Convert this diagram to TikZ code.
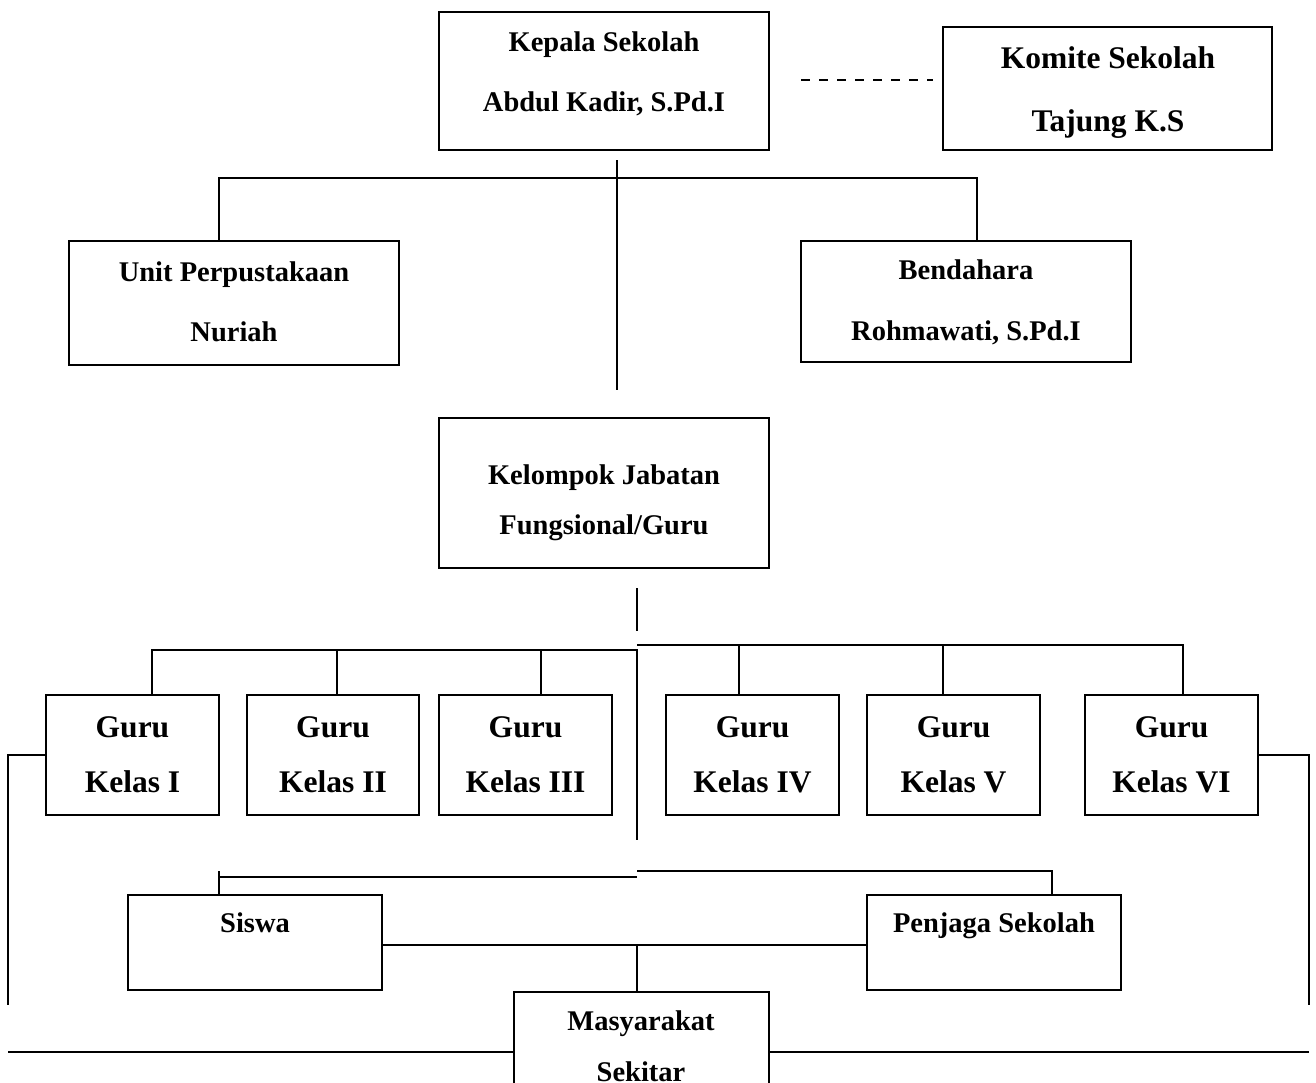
\documentclass[tikz,border=0pt]{standalone}
\usepackage{fontspec}
\setmainfont{Liberation Serif}
\usetikzlibrary{calc}
\begin{document}
\begin{tikzpicture}[x=1pt,y=-1pt,
  box/.style={draw,line width=1.6pt,rectangle,inner sep=0pt},
  ln/.style={line width=1.6pt},
  txt/.style={anchor=base,inner sep=0pt,font=\bfseries\fontsize{28.5}{34}\selectfont},
  big/.style={anchor=base,inner sep=0pt,font=\bfseries\fontsize{31.5}{38}\selectfont}]
\useasboundingbox (0,0) rectangle (1316,1082);
\clip (0,0) rectangle (1316,1082);
% boxes
\node[box,minimum width=330pt,minimum height=138pt] (kepala) at (604,81) {};
\node[box,minimum width=329pt,minimum height=123pt] (komite) at (1107.5,88.5) {};
\node[box,minimum width=330pt,minimum height=124pt] (unit) at (234,303) {};
\node[box,minimum width=330pt,minimum height=121pt] (bend) at (966,301.5) {};
\node[box,minimum width=330pt,minimum height=150pt] (kelompok) at (604,493) {};
\node[box,minimum width=173pt,minimum height=120pt] (g1) at (132.5,755) {};
\node[box,minimum width=172pt,minimum height=120pt] (g2) at (333,755) {};
\node[box,minimum width=173pt,minimum height=120pt] (g3) at (525.5,755) {};
\node[box,minimum width=173pt,minimum height=120pt] (g4) at (752.5,755) {};
\node[box,minimum width=173pt,minimum height=120pt] (g5) at (953.5,755) {};
\node[box,minimum width=173pt,minimum height=120pt] (g6) at (1171.5,755) {};
\node[box,minimum width=254pt,minimum height=95pt] (siswa) at (255,942.5) {};
\node[box,minimum width=254pt,minimum height=95pt] (penjaga) at (994,942.5) {};
\node[box,minimum width=255pt,minimum height=130pt] (masy) at (641.5,1057) {};
% texts
\node[txt] (t1) at (604,51) {Kepala Sekolah};
\node[txt] (t2) at (604,111) {Abdul Kadir, S.Pd.I};
\node[big] (t3) at (1108,68) {Komite Sekolah};
\node[big] (t4) at (1108,131) {Tajung K.S};
\node[txt] (t5) at (234,281) {Unit Perpustakaan};
\node[txt] (t6) at (234,341) {Nuriah};
\node[txt] (t7) at (966,279) {Bendahara};
\node[txt] (t8) at (966,340) {Rohmawati, S.Pd.I};
\node[txt] (t9) at (604,484) {Kelompok Jabatan};
\node[txt] (t10) at (604,534) {Fungsional/Guru};
\node[big] (ga1) at (132.5,737) {Guru};
\node[big] (gb1) at (132.5,792) {Kelas I};
\node[big] (ga2) at (333,737) {Guru};
\node[big] (gb2) at (333,792) {Kelas II};
\node[big] (ga3) at (525.5,737) {Guru};
\node[big] (gb3) at (525.5,792) {Kelas III};
\node[big] (ga4) at (752.5,737) {Guru};
\node[big] (gb4) at (752.5,792) {Kelas IV};
\node[big] (ga5) at (953.5,737) {Guru};
\node[big] (gb5) at (953.5,792) {Kelas V};
\node[big] (ga6) at (1171.5,737) {Guru};
\node[big] (gb6) at (1171.5,792) {Kelas VI};
\node[txt] (t11) at (255,932) {Siswa};
\node[txt] (t12) at (994,932) {Penjaga Sekolah};
\node[txt] (t13) at (641,1030) {Masyarakat};
\node[txt] (t14) at (641,1081) {Sekitar};
% coordinates
\coordinate (dA) at (801,80);
\coordinate (dB) at (933,80);
\coordinate (vA) at (617,160);
\coordinate (vB) at (617,390);
\coordinate (hL) at (219,178);
\coordinate (hR) at (977,178);
\coordinate (kA) at (637,588);
\coordinate (kB) at (637,631);
\coordinate (mL) at (152,650);
\coordinate (mC) at (637,650);
\coordinate (mCr) at (637,645);
\coordinate (mR) at (1183,645);
\coordinate (mD) at (637,840);
\coordinate (sL) at (219,877);
\coordinate (sC) at (637,877);
\coordinate (sCr) at (637,871);
\coordinate (sR) at (1052,871);
\coordinate (jn) at (637,945);
\coordinate (lA) at (8,757);
\coordinate (lB) at (8,1005);
\coordinate (rA) at (1309,757);
\coordinate (rB) at (1309,1005);
\coordinate (bL) at (8,1052);
\coordinate (bR) at (1309,1052);
% connectors
\draw[ln,dash pattern=on 9pt off 9pt] (dA) -- (dB);
\draw[ln] (vA) -- (vB);
\draw[ln] (unit.north -| hL) -- (hL) -- (hR) -- (bend.north -| hR);
\draw[ln] (kA) -- (kB);
\draw[ln] (g1.north -| mL) -- (mL) -- (mC) -- (mD);
\draw[ln] ($(g2.north)+(4,0)$) -- ++(0,-45);
\draw[ln] ($(g3.north)+(15.5,0)$) -- ++(0,-45);
\draw[ln] (mCr) -- (mR) -- (g6.north -| mR);
\draw[ln] ($(g4.north)+(-13.5,0)$) -- ++(0,-50);
\draw[ln] ($(g5.north)+(-10.5,0)$) -- ++(0,-50);
\draw[ln] (siswa.north -| sL) -- ($(sL)+(0,-6)$);
\draw[ln] (sL) -- (sC);
\draw[ln] (sCr) -- (sR) -- (penjaga.north -| sR);
\draw[ln] (jn -| siswa.east) -- (jn -| penjaga.west);
\draw[ln] (jn) -- (jn |- masy.north);
\draw[ln] (g1.west) -- (g1.west -| lA) -- (lB);
\draw[ln] (g6.east) -- (g6.east -| rA) -- (rB);
\draw[ln] (bL) -- (bL -| masy.west);
\draw[ln] (bR) -- (bR -| masy.east);
\end{tikzpicture}
\end{document}
